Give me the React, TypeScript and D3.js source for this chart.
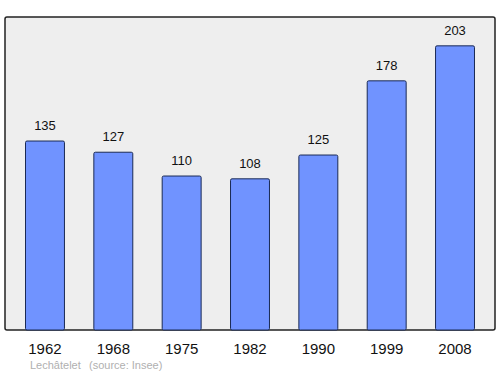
import React from "react";
import * as d3 from "d3";

const years = ["1962", "1968", "1975", "1982", "1990", "1999", "2008"];
const population = [135, 127, 110, 108, 125, 178, 203];
const commune = "Lechâtelet";
const source = "(source: Insee)";

export default function App() {
  const W = 500, H = 374;
  const left = 5, right = 495, top = 17, bottom = 330;
  const x = d3.scaleBand<string>().domain(years).range([left, right]).paddingInner(0.43).paddingOuter(0.3);
  const y = d3.scaleLinear().domain([0, 223.6]).range([bottom, top]);
  return (
    <svg width={W} height={H} style={{ position: "absolute", left: 0, top: 0, fontFamily: "Liberation Sans, Arial, sans-serif" }}>
      <rect x={left} y={top} width={right - left} height={bottom - top} rx={2} fill="#eeeeee" stroke="#222" strokeWidth={1.5} />
      {years.map((yr, i) => {
        const v = population[i];
        const bx = x(yr)!;
        return (
          <g key={yr}>
            <rect x={bx} y={y(v)} width={x.bandwidth()} height={bottom - y(v)} rx={1.5} fill="#7093ff" stroke="#1a2a55" strokeWidth={1} />
            <text x={bx + x.bandwidth() / 2} y={y(v) - 11} textAnchor="middle" fontSize={13} fill="#111">{v}</text>
            <text x={bx + x.bandwidth() / 2} y={354} textAnchor="middle" fontSize={15} fill="#111">{yr}</text>
          </g>
        );
      })}
      <text x={30} y={369} fontSize={11} fill="#b0b0b0">{commune}</text>
      <text x={89} y={369} fontSize={11} fill="#b0b0b0">{source}</text>
    </svg>
  );
}
